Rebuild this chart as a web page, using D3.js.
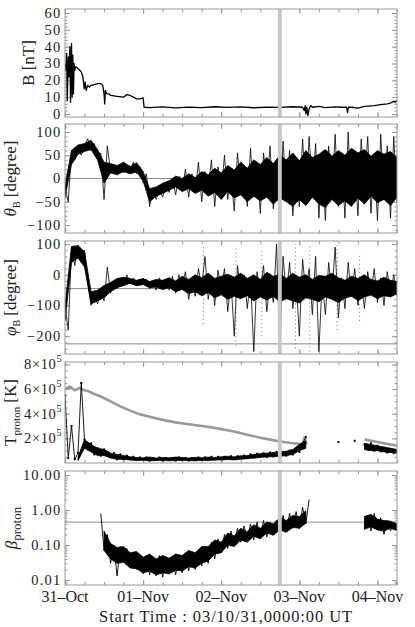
<!DOCTYPE html>
<html><head><meta charset="utf-8">
<script src="https://cdn.jsdelivr.net/npm/d3@7"></script>
<style>
body{margin:0;background:#fff}
svg{display:block}
text{font-family:"Liberation Serif","Times New Roman",serif;fill:#222}
</style>
</head><body>
<svg id="chart" width="415" height="627"></svg>
<script>
// ---------------- DATA ----------------
const dayLabels = ["31–Oct", "01–Nov", "02–Nov", "03–Nov", "04–Nov"];
const dayHours = [0, 24, 48, 72, 96];
const hourDomain = [0, 102];
const markHours = [65.4, 66.6];
const xTitle = "Start Time : 03/10/31,0000:00 UT";

// Panel 1: |B| [nT]
const bHours = [0,0.3,0.5,0.7,1.0,1.2,1.5,1.7,2.0,2.2,2.4,2.6,2.8,3.0,3.3,4,5,5.5,5.9,6.2,6.5,7,7.5,8,9,10,11,11.6,12,12.2,12.4,12.8,13.5,14,16,18,19,20,21,22,23,24,24.3,26,30,34,38,42,46,50,54,58,62,66,70,73,73.5,73.8,74,74.3,74.6,75,75.5,76,78,80,83,85,86.5,86.8,87.1,88,90,92,95,97,99,100,101,101.5,102];
const bValues = [30,26,36,8,34,22,40,7,42,10,35,12,30,26,28,27,25,22,15,19,14,17,16,17,17.5,18,18,17,12,6,14,12,12,11,10.5,10,11.5,11,10,9,9,9.5,4,3.8,4.2,3.6,4.1,3.8,4.3,3.9,4.2,3.7,4.1,3.9,4.3,4,2,5,0,4,-1,3,5,4,4.5,3.8,4.2,4,4,1,4,4,3.5,4.5,5,5.5,6,6.5,7.5,7,8];
const bTicks = [0, 10, 20, 30, 40, 50, 60];

// Panel 2: theta_B [degree] — hourly extremes, plus 2-hourly core band
const thetaB = [
  -20,-50,60,40,65,50,70,85,60,75,
  45,55,-45,70,15,30,10,25,12,30,
  15,35,10,25,-10,10,-60,-20,-45,-25,
  -40,-15,-30,0,-35,5,-25,20,-40,10,
  -30,35,-50,15,-20,40,-60,25,-30,50,
  -45,10,-70,55,-30,20,-60,65,-40,30,
  -75,55,-20,70,-65,40,-85,80,-30,60,
  -80,20,-60,85,-40,90,-20,75,-85,40,
  -90,70,-40,95,-60,50,-85,100,-50,30,
  -80,85,-20,90,-75,45,-90,95,-40,70,
  -85,90,-50];
const thetaCoreLo = [-40,30,52,58,62,40,-10,12,8,15,10,14,-5,-50,-38,-32,-25,-18,-28,-22,-32,-25,-38,-30,-45,-28,-42,-35,-50,-38,-48,-40,-55,-42,-50,-60,-45,-58,-40,-55,-62,-45,-58,-48,-60,-42,-55,-38,-52,-45,-58,-40];
const thetaCoreHi = [-15,60,72,75,82,62,35,32,28,35,26,34,15,-22,-18,-10,-5,5,0,10,2,15,8,22,12,28,18,35,22,40,30,45,32,50,40,55,38,60,45,52,62,48,60,50,65,55,62,48,60,52,58,45];
const thetaTicks = [-100, -50, 0, 50, 100];

// Panel 3: phi_B [degree] — hourly extremes, 2-hourly core band, sparse outlying samples
const phiB = [
  -100,-180,90,30,95,40,80,-20,-100,-60,
  -95,-55,-85,25,-60,-30,-45,-15,-35,0,
  -30,-10,-35,-15,-30,-15,-45,-20,-50,-10,
  -45,-20,-50,-5,-60,0,-30,10,-80,-20,
  -70,20,-40,60,-80,-10,-100,15,-50,20,
  -120,-20,-200,30,-60,0,-110,-10,-250,10,
  -60,30,-120,-20,-90,100,-250,60,-70,40,
  -110,-10,-200,50,-60,20,-130,60,-250,-20,
  -130,40,-60,90,-140,-10,-110,40,-70,20,
  -100,-20,-110,10,-60,20,-90,-10,-100,10,
  -60,0,-70];
const phiCoreLo = [-150,40,55,25,-95,-85,-75,-55,-42,-35,-28,-36,-32,-42,-40,-48,-42,-55,-48,-62,-55,-68,-58,-75,-65,-80,-70,-78,-68,-85,-72,-82,-70,-88,-78,-85,-92,-75,-80,-88,-72,-80,-90,-76,-70,-84,-72,-66,-78,-68,-72,-62];
const phiCoreHi = [-100,92,95,75,-55,-50,-35,-25,-12,-8,-12,-18,-12,-22,-15,-18,-10,-20,-5,-15,0,-10,5,-12,-5,2,-8,5,-12,0,-15,8,-5,2,-12,5,-8,0,-15,-2,-5,5,-10,-18,-5,-12,0,-15,-20,-8,-18,-22];
const phiSparseHours = [42.5, 52.5, 60.5, 70.8, 75.2, 83.6, 90.5];
const phiSparseLo = [-160, -230, -200, -240, -250, -180, -150];
const phiSparseHi = [100, 95, 80, 100, 100, 100, 70];
const phiTicks = [-200, -100, 0, 100];
const phiRefLines = [-45, -225];

// Panel 4: proton temperature [1e5 K] — hourly samples, 2-hourly core band, expected temperature (grey)
const tempProton = [
  5.5,0.4,3.0,0.3,0.8,6.5,1.9,1.1,1.6,0.7,
  1.2,0.6,1.1,0.9,0.5,0.8,0.3,0.7,0.3,0.6,
  0.3,0.5,0.25,0.45,0.3,0.45,0.2,0.4,0.25,0.45,
  0.2,0.4,0.25,0.4,0.2,0.45,0.25,0.4,0.2,0.4,
  0.25,0.45,0.25,0.45,0.3,0.5,0.3,0.5,0.3,0.5,
  0.35,0.55,0.35,0.55,0.4,0.6,0.4,0.7,0.45,0.75,
  0.5,0.8,0.5,0.85,0.55,0.9,0.55,0.9,0.6,1.0,
  0.7,1.1,0.9,1.6,2.1,null,null,null,null,null,
  null,null,null,null,1.7,null,null,null,null,1.8,
  null,null,1.5,1.1,1.6,1.0,1.4,0.95,1.2,0.85,
  1.1,0.8,1.0];
const tempCoreLo = [null,null,0.2,1.2,0.9,0.6,0.6,0.4,0.3,0.3,0.25,0.2,0.22,0.18,0.2,0.22,0.18,0.2,0.22,0.2,0.18,0.22,0.2,0.24,0.25,0.28,0.25,0.3,0.35,0.4,0.45,0.5,0.5,0.55,0.6,0.7,1.0,1.2,null,null,null,null,null,null,null,null,1.1,1.0,1.0,0.9,0.85,0.8];
const tempCoreHi = [null,null,0.5,1.9,1.5,1.2,1.1,0.8,0.7,0.6,0.5,0.45,0.42,0.48,0.4,0.45,0.42,0.48,0.44,0.4,0.46,0.42,0.48,0.45,0.5,0.55,0.5,0.58,0.6,0.7,0.75,0.8,0.85,0.9,0.95,1.1,1.5,1.8,null,null,null,null,null,null,null,null,1.6,1.5,1.4,1.3,1.2,1.1];
const tempGrayHours = [0,1.5,3,4.5,6,7.5,9,11,14,17,20,23,26,30,34,38,42,46,48,52,56,60,63,66,70,72,73,73.6,74.2,80,92,94,96,98,100,102];
const tempGrayValues = [6.0,6.2,5.9,6.1,5.9,5.8,5.6,5.4,5.0,4.6,4.25,3.95,3.75,3.5,3.3,3.15,3.0,2.85,2.75,2.55,2.3,2.05,1.9,1.75,1.6,1.55,1.5,2.1,1.5,null,1.9,1.8,1.7,1.6,1.5,1.4];
const tempTicks = [2, 4, 6, 8];

// Panel 5: proton beta — hourly samples, plus 2-hourly core band
const betaProton = [
  null,null,null,null,null,null,null,null,null,null,
  null,0.8,0.07,0.2,0.03,0.1,0.013,0.09,0.035,0.08,
  0.03,0.06,0.02,0.05,0.015,0.045,0.014,0.04,0.013,0.05,
  0.012,0.04,0.015,0.045,0.014,0.05,0.016,0.06,0.018,0.06,
  0.02,0.07,0.025,0.09,0.03,0.12,0.04,0.15,0.06,0.2,
  0.08,0.25,0.1,0.3,0.12,0.35,0.15,0.4,0.14,0.45,
  0.15,0.5,0.17,0.45,0.2,0.5,0.2,0.7,0.25,0.8,
  0.3,0.9,0.3,1.2,0.4,2.0,null,null,null,null,
  null,null,null,null,null,null,null,null,null,null,
  null,null,0.3,0.7,0.25,0.8,0.3,0.6,0.2,0.5,
  0.25,0.45,0.3];
const betaCoreLo = [null,null,null,null,null,null,0.07,0.04,0.03,0.032,0.022,0.021,0.016,0.018,0.014,0.016,0.015,0.019,0.018,0.024,0.022,0.03,0.035,0.055,0.06,0.1,0.09,0.14,0.12,0.18,0.15,0.22,0.19,0.27,0.23,0.32,0.3,0.42,null,null,null,null,null,null,null,null,0.28,0.33,0.27,0.25,0.3,0.26];
const betaCoreHi = [null,null,null,null,null,null,0.25,0.11,0.085,0.09,0.06,0.065,0.045,0.055,0.04,0.05,0.042,0.055,0.05,0.07,0.06,0.09,0.09,0.14,0.12,0.22,0.18,0.3,0.24,0.38,0.3,0.45,0.4,0.6,0.5,0.7,0.65,0.95,null,null,null,null,null,null,null,null,0.65,0.75,0.55,0.5,0.48,0.4];
const betaTicks = [0.01, 0.1, 1, 10];
const betaTickLabels = ["0.01", "0.10", "1.00", "10.00"];
const betaRefLine = [0.45];

// ---------------- LAYOUT ----------------
const svg = d3.select("#chart");
const left = 65, right = 397;
const FRAME = "#9a9a9a";
const x = d3.scaleLinear().domain(hourDomain).range([left, right]);

const panels = [
  {top: 9,   bottom: 117, y: d3.scaleLinear().domain([-1.8, 62.4]), major: bTicks, minor: d3.range(0, 62, 2)},
  {top: 124, bottom: 233, y: d3.scaleLinear().domain([-117, 117]), major: thetaTicks, minor: d3.range(-110, 111, 10)},
  {top: 241, bottom: 354, y: d3.scaleLinear().domain([-258, 110]), major: phiTicks, minor: d3.range(-240, 101, 20)},
  {top: 362, bottom: 463, y: d3.scaleLinear().domain([0, 8.2]), major: tempTicks, minor: d3.range(0.5, 8.1, 0.5)},
  {top: 471, bottom: 585, y: d3.scaleLog().domain([0.0072, 13]), major: betaTicks,
    minor: [2,3,4,5,6,7,8,9].flatMap(m => [0.001, 0.01, 0.1, 1].map(d => m * d)).filter(v => v > 0.0072 && v < 13)}
];
panels.forEach(p => p.y.range([p.bottom, p.top]));

const xMinor = d3.range(0, 103, 6);

panels.forEach((p, i) => {
  p.g = svg.append("g");
  const cid = "clip" + i;
  svg.append("clipPath").attr("id", cid).append("rect")
    .attr("x", left).attr("y", p.top).attr("width", right - left).attr("height", p.bottom - p.top);
  p.clip = "url(#" + cid + ")";
});

function styleAxis(sel) {
  sel.select(".domain").remove();
  sel.selectAll("line").attr("stroke", FRAME).attr("stroke-width", 1);
  sel.selectAll("text").remove();
}

panels.forEach((p) => {
  const g = p.g;
  const maj = 5, mnr = 2.5;
  g.append("g").attr("transform", `translate(${left},0)`).call(d3.axisLeft(p.y).tickValues(p.major).tickSize(-maj).tickFormat("")).call(styleAxis);
  g.append("g").attr("transform", `translate(${left},0)`).call(d3.axisLeft(p.y).tickValues(p.minor).tickSize(-mnr).tickFormat("")).call(styleAxis);
  g.append("g").attr("transform", `translate(${right},0)`).call(d3.axisRight(p.y).tickValues(p.major).tickSize(-maj).tickFormat("")).call(styleAxis);
  g.append("g").attr("transform", `translate(${right},0)`).call(d3.axisRight(p.y).tickValues(p.minor).tickSize(-mnr).tickFormat("")).call(styleAxis);
  g.append("g").attr("transform", `translate(0,${p.bottom})`).call(d3.axisBottom(x).tickValues(dayHours).tickSize(-maj).tickFormat("")).call(styleAxis);
  g.append("g").attr("transform", `translate(0,${p.bottom})`).call(d3.axisBottom(x).tickValues(xMinor).tickSize(-3).tickFormat("")).call(styleAxis);
  g.append("g").attr("transform", `translate(0,${p.top})`).call(d3.axisTop(x).tickValues(dayHours).tickSize(-maj).tickFormat("")).call(styleAxis);
  g.append("g").attr("transform", `translate(0,${p.top})`).call(d3.axisTop(x).tickValues(xMinor).tickSize(-3).tickFormat("")).call(styleAxis);
});

// reference lines
function hline(p, v) {
  p.g.append("line").attr("x1", left).attr("x2", right)
    .attr("y1", p.y(v)).attr("y2", p.y(v)).attr("stroke", "#8c8c8c").attr("stroke-width", 1);
}
hline(panels[1], 0);
phiRefLines.forEach(v => hline(panels[2], v));
betaRefLine.forEach(v => hline(panels[4], v));

// data
const defd = v => v !== null && v !== undefined;
function drawLine(p, xs, ys, opts) {
  const pts = xs.map((h, i) => [h, ys[i]]);
  const line = d3.line().defined(d => defd(d[1])).x(d => x(d[0])).y(d => p.y(d[1]));
  p.g.append("path").datum(pts).attr("d", line)
    .attr("fill", "none").attr("stroke", opts.color || "#000")
    .attr("stroke-width", opts.width || 1)
    .attr("stroke-linejoin", "round")
    .attr("clip-path", p.clip);
}
function drawBand(p, lo, hi, step) {
  const pts = lo.map((v, i) => [i * step, v, hi[i]]);
  const area = d3.area().defined(d => defd(d[1]) && defd(d[2]))
    .x(d => x(d[0])).y0(d => p.y(d[1])).y1(d => p.y(d[2]));
  p.g.append("path").datum(pts).attr("d", area)
    .attr("fill", "#000").attr("stroke", "#000").attr("stroke-width", 0.8)
    .attr("clip-path", p.clip);
}
const idx = arr => arr.map((_, i) => i);

drawLine(panels[0], bHours, bValues, {width: 1.3});
drawBand(panels[1], thetaCoreLo, thetaCoreHi, 2);
drawLine(panels[1], idx(thetaB), thetaB, {width: 0.8});
panels[2].g.append("g").selectAll("line").data(phiSparseHours).join("line")
  .attr("x1", d => x(d)).attr("x2", d => x(d))
  .attr("y1", (d, i) => panels[2].y(phiSparseLo[i])).attr("y2", (d, i) => panels[2].y(phiSparseHi[i]))
  .attr("stroke", "#777").attr("stroke-width", 1).attr("stroke-dasharray", "1,3")
  .attr("clip-path", panels[2].clip);
drawBand(panels[2], phiCoreLo, phiCoreHi, 2);
drawLine(panels[2], idx(phiB), phiB, {width: 0.8});
drawLine(panels[3], tempGrayHours, tempGrayValues, {color: "#9a9a9a", width: 2.6});
drawBand(panels[3], tempCoreLo, tempCoreHi, 2);
drawLine(panels[3], idx(tempProton), tempProton, {width: 0.9});
panels[3].g.append("g").selectAll("rect")
  .data(tempProton.map((v, i) => [i, v]).filter(d => defd(d[1])))
  .join("rect")
  .attr("x", d => x(d[0]) - 1).attr("y", d => panels[3].y(d[1]) - 1)
  .attr("width", 2).attr("height", 2).attr("fill", "#000")
  .attr("clip-path", panels[3].clip);
drawBand(panels[4], betaCoreLo, betaCoreHi, 2);
drawLine(panels[4], idx(betaProton), betaProton, {width: 0.9});

// shaded event bar
panels.forEach(p => {
  p.g.append("rect").attr("x", x(markHours[0])).attr("width", x(markHours[1]) - x(markHours[0]))
    .attr("y", p.top).attr("height", p.bottom - p.top).attr("fill", "#c8c8c8");
});

// frames
panels.forEach(p => {
  p.g.append("rect").attr("x", left).attr("y", p.top).attr("width", right - left)
    .attr("height", p.bottom - p.top).attr("fill", "none").attr("stroke", FRAME).attr("stroke-width", 1);
});

// y tick labels
const TFS = 14.5, LS = 1.2;
function yLabels(p, vals, fmt) {
  p.g.append("g").selectAll("text").data(vals).join("text")
    .attr("x", 61.5).attr("y", d => p.y(d)).attr("dy", "0.34em")
    .attr("text-anchor", "end").attr("font-size", TFS).attr("letter-spacing", LS)
    .text(fmt);
}
yLabels(panels[0], bTicks, d => d);
yLabels(panels[1], thetaTicks, d => String(d).replace("-", "−"));
yLabels(panels[2], phiTicks, d => String(d).replace("-", "−"));
yLabels(panels[4], betaTicks, (d, i) => betaTickLabels[i]);
panels[3].g.append("g").selectAll("text").data(tempTicks).join("text")
  .attr("x", 62).attr("y", d => panels[3].y(d)).attr("dy", "0.34em")
  .attr("text-anchor", "end").attr("font-size", TFS).attr("letter-spacing", 0.6)
  .each(function(d) {
    const t = d3.select(this);
    t.append("tspan").text(d + "×10");
    t.append("tspan").attr("dy", -7).attr("font-size", 10).text("5");
  });

// y axis titles
const FS = 17;
function yTitle(p, xpos, build) {
  const cy = (p.top + p.bottom) / 2;
  const t = svg.append("text").attr("transform", `translate(${xpos},${cy}) rotate(-90)`)
    .attr("text-anchor", "middle").attr("font-size", FS);
  build(t);
}
yTitle(panels[0], 34, t => t.text("B [nT]"));
yTitle(panels[1], 16, t => {
  t.append("tspan").attr("font-style", "italic").text("θ");
  t.append("tspan").attr("font-size", 10).attr("dy", 4).text("B");
  t.append("tspan").attr("dy", -4).text(" [degree]");
});
yTitle(panels[2], 16, t => {
  t.append("tspan").attr("font-style", "italic").text("φ");
  t.append("tspan").attr("font-size", 10).attr("dy", 4).text("B");
  t.append("tspan").attr("dy", -4).text(" [degree]");
});
yTitle(panels[3], 16, t => {
  t.append("tspan").text("T");
  t.append("tspan").attr("font-size", 11).attr("dy", 4).text("proton");
  t.append("tspan").attr("dy", -4).text(" [K]");
});
yTitle(panels[4], 17, t => {
  t.append("tspan").attr("font-style", "italic").text("β");
  t.append("tspan").attr("font-size", 13).attr("dy", 4).text("proton");
});

// x labels
svg.append("g").selectAll("text").data(dayHours).join("text")
  .attr("x", d => x(d)).attr("y", 602).attr("text-anchor", "middle").attr("font-size", 16)
  .text((d, i) => dayLabels[i]);
svg.append("text").attr("x", 226).attr("y", 622).attr("text-anchor", "middle").attr("font-size", 16.5)
  .attr("letter-spacing", 0.9)
  .text(xTitle);
</script>
</body></html>
